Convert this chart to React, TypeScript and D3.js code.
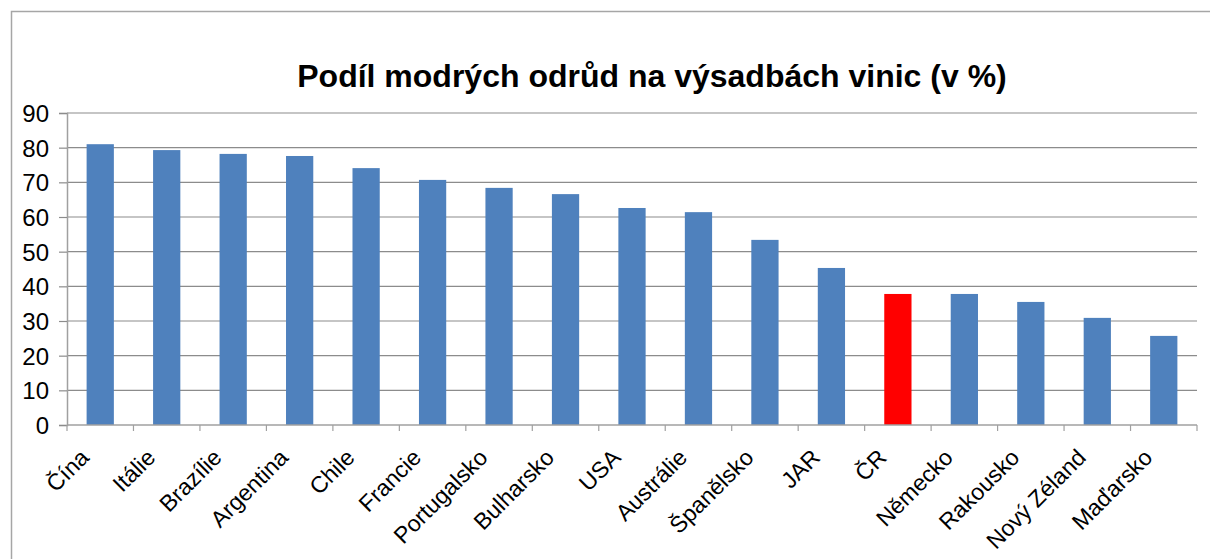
import { useEffect, useRef } from 'react';
import * as d3 from 'd3';

const countries = [
  'Čína', 'Itálie', 'Brazílie', 'Argentina', 'Chile', 'Francie', 'Portugalsko', 'Bulharsko',
  'USA', 'Austrálie', 'Španělsko', 'JAR', 'ČR', 'Německo', 'Rakousko', 'Nový Zéland', 'Maďarsko',
];
const shares = [81.0, 79.3, 78.2, 77.6, 74.1, 70.7, 68.4, 66.6, 62.6, 61.4, 53.4, 45.3, 37.8, 37.8, 35.5, 30.9, 25.7];
const highlighted = ['ČR'];
const yTicks = [0, 10, 20, 30, 40, 50, 60, 70, 80, 90];

const W = 1210;
const H = 559;
const PLOT = { left: 67, right: 1197, top: 113, bottom: 425 };
const FONT = 'Liberation Sans, Arial, sans-serif';

export default function App() {
  const svgRef = useRef<SVGSVGElement>(null);

  useEffect(() => {
    const svg = d3.select(svgRef.current);
    svg.selectAll('*').remove();

    const x = d3.scaleBand<string>().domain(countries).range([PLOT.left, PLOT.right]).paddingInner(0.59).paddingOuter(0.295);
    const y = d3.scaleLinear().domain([0, 90]).range([PLOT.bottom, PLOT.top]);

    // outer frame (runs off the right and bottom edges)
    svg.append('rect').attr('x', 11.5).attr('y', 11.5).attr('width', W + 20).attr('height', H + 20)
      .attr('fill', '#fff').attr('stroke', '#a6a6a6').attr('stroke-width', 1.5);

    // title
    svg.append('text').attr('x', 652).attr('y', 87).attr('text-anchor', 'middle')
      .attr('font-family', FONT).attr('font-weight', 'bold').attr('font-size', 32).attr('fill', '#000')
      .text('Podíl modrých odrůd na výsadbách vinic (v %)');

    // grid
    yTicks.filter(t => t > 0).forEach(t => {
      svg.append('line').attr('x1', PLOT.left).attr('x2', PLOT.right)
        .attr('y1', y(t)).attr('y2', y(t)).attr('stroke', '#8c8c8c').attr('stroke-width', 1.2);
    });

    // bars
    svg.selectAll(null).data(countries).join('rect')
      .attr('x', d => x(d)!).attr('width', x.bandwidth())
      .attr('y', (d, i) => y(shares[i])).attr('height', (d, i) => y(0) - y(shares[i]))
      .attr('fill', d => highlighted.includes(d) ? '#ff0000' : '#4f81bd');

    // y axis
    const yAxis = d3.axisLeft(y).tickValues(yTicks).tickSize(8).tickPadding(10);
    const yG = svg.append('g').attr('transform', `translate(${PLOT.left},0)`).call(yAxis);
    yG.select('.domain').attr('stroke', '#a0a0a0').attr('stroke-width', 1.5);
    yG.selectAll('line').attr('stroke', '#8c8c8c').attr('stroke-width', 1.2);
    yG.selectAll('text').attr('font-family', FONT).attr('font-size', 24).attr('fill', '#000').attr('dy', '0.36em');

    // x axis
    svg.append('line').attr('x1', PLOT.left).attr('x2', PLOT.right).attr('y1', PLOT.bottom).attr('y2', PLOT.bottom)
      .attr('stroke', '#a0a0a0').attr('stroke-width', 1.5);
    const step = x.step();
    d3.range(countries.length + 1).forEach(i => {
      const tx = PLOT.left + i * step;
      svg.append('line').attr('x1', tx).attr('x2', tx).attr('y1', PLOT.bottom).attr('y2', PLOT.bottom + 6)
        .attr('stroke', '#a0a0a0').attr('stroke-width', 1.2);
    });
    countries.forEach(c => {
      const cx = x(c)! + x.bandwidth() / 2;
      svg.append('text').attr('transform', `translate(${cx - 10},${PLOT.bottom + 34}) rotate(-45)`)
        .attr('text-anchor', 'end').attr('font-family', FONT).attr('font-size', 23).attr('fill', '#000')
        .text(c);
    });
  }, []);

  return (
    <svg ref={svgRef} width={W} height={H}
      style={{ position: 'absolute', left: 0, top: 0, display: 'block', background: '#fff' }} />
  );
}
